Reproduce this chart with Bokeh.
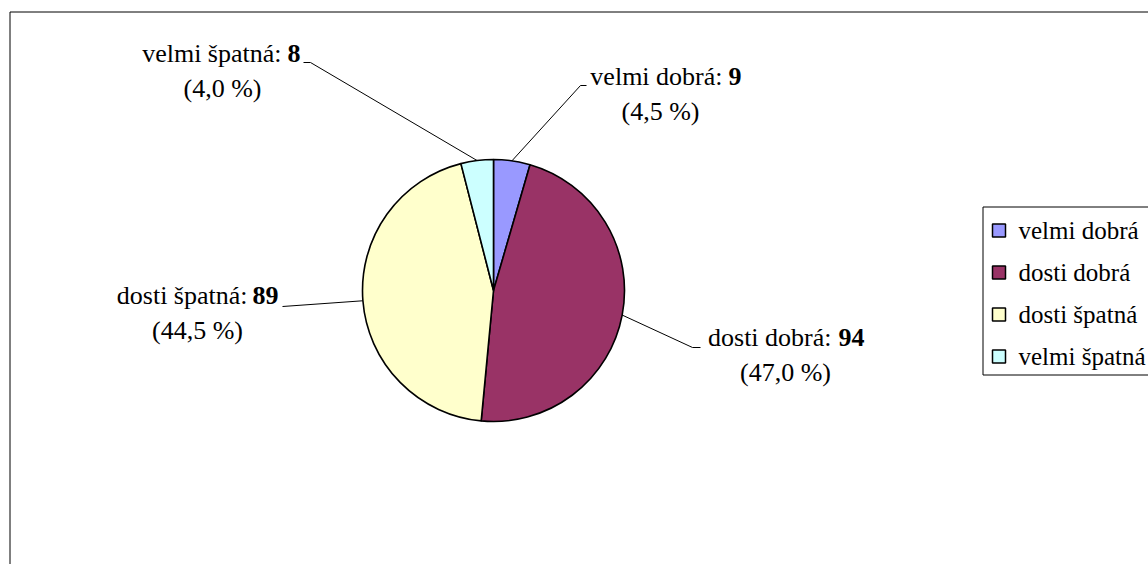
import math

from bokeh.core.properties import value
from bokeh.embed import file_html
from bokeh.models import ColumnDataSource, Range1d
from bokeh.plotting import figure
from bokeh.resources import INLINE

# Survey answers and their counts
categories = ["velmi dobrá", "dosti dobrá", "dosti špatná", "velmi špatná"]
counts = [9, 94, 89, 8]
colors = ["#9999FF", "#993366", "#FFFFCC", "#CCFFFF"]

# Canvas size in pixels; data units equal pixels, y measured from the top
W, H = 1148, 564


def Y(y):
    return H - y


FONT = value("Liberation Serif")
FSIZE = "26px"
LEG_FSIZE = "25px"

# Pie geometry
CX, CY, R = 493, 290, 131

# Data label layout per slice: split point between name and bold value,
# first-line baseline, second-line centre, leader elbow and leader end
label_split = [(722, 728), (831, 838), (247, 252), (281, 287)]
label_base = [76, 337, 295, 53]
pct_center = [660, 785, 197, 222]
leader_elbow = [(580, 85), (692, 347), (282, 306), (310, 62)]
leader_end = [(586, 85), (700, 347), (282, 306), (303, 62)]

# Legend layout
LEG_BOX = (982, 206, 1170, 374)  # left, top, right, bottom
LEG_SQ_X, LEG_TEXT_X = 998.5, 1018
LEG_Y0, LEG_DY, LEG_SQ = 230, 42, 13

total = sum(counts)
fractions = [c / total for c in counts]
starts, ends, mids = [], [], []
cum = 0.0
for f in fractions:
    a0 = math.pi / 2 - 2 * math.pi * cum
    a1 = math.pi / 2 - 2 * math.pi * (cum + f)
    starts.append(a0)
    ends.append(a1)
    mids.append((a0 + a1) / 2)
    cum += f

p = figure(
    width=W,
    height=H,
    x_range=Range1d(0, W),
    y_range=Range1d(0, H),
    x_axis_location=None,
    y_axis_location=None,
    toolbar_location=None,
    output_backend="svg",
    min_border=0,
    outline_line_color=None,
    background_fill_color="white",
    border_fill_color="white",
)
p.grid.visible = False

# Chart area frame (runs past the right and bottom edges)
p.quad(left=[9.5], right=[W + 20], top=[Y(11.5)], bottom=[Y(H + 20)],
       fill_color=None, line_color="#000000", line_width=1)

# Pie slices
pie = ColumnDataSource(dict(
    x=[CX] * len(counts), y=[Y(CY)] * len(counts),
    start=starts, end=ends, color=colors, cat=categories,
))
p.wedge(x="x", y="y", radius=R, start_angle="start", end_angle="end",
        direction="clock", fill_color="color", line_color="#000000",
        line_width=1.6, source=pie)

# Leader lines from the slice midpoints to the labels
for i, a in enumerate(mids):
    ex, ey = CX + R * math.cos(a), CY - R * math.sin(a)
    (bx, by), (tx, ty) = leader_elbow[i], leader_end[i]
    p.line([ex, bx, tx], [Y(ey), Y(by), Y(ty)], line_color="#000000",
           line_width=1)

# Data labels: "name: " + bold count, then the share in parentheses
names = [f"{c}:" for c in categories]
vals = [str(c) for c in counts]
pcts = [f"({100 * c / total:.1f} %)".replace(".", ",") for c in counts]

p.text(x=[s[0] for s in label_split], y=[Y(b) for b in label_base], text=names,
       text_align="right", text_baseline="alphabetic", text_font=FONT,
       text_font_size=FSIZE, text_font_style="normal", text_color="black")
p.text(x=[s[1] for s in label_split], y=[Y(b) for b in label_base], text=vals,
       text_align="left", text_baseline="alphabetic", text_font=FONT,
       text_font_size=FSIZE, text_font_style="bold", text_color="black")
p.text(x=pct_center, y=[Y(b + 35) for b in label_base], text=pcts,
       text_align="center", text_baseline="alphabetic", text_font=FONT,
       text_font_size=FSIZE, text_font_style="normal", text_color="black")

# Legend
l, t, rr, b = LEG_BOX
p.quad(left=[l + 0.5], right=[rr], top=[Y(t + 0.5)], bottom=[Y(b + 0.5)],
       fill_color="white", line_color="#000000", line_width=1)
leg_y = [Y(LEG_Y0 + i * LEG_DY) for i in range(len(categories))]
p.rect(x=[LEG_SQ_X] * len(categories), y=leg_y, width=LEG_SQ, height=LEG_SQ,
       fill_color=colors, line_color="#000000", line_width=1.5)
p.text(x=[LEG_TEXT_X] * len(categories), y=leg_y, text=categories,
       text_align="left", text_baseline="middle", text_font=FONT,
       text_font_size=LEG_FSIZE, text_font_style="normal", text_color="black")

open("out.html", "w").write(file_html(p, INLINE))
